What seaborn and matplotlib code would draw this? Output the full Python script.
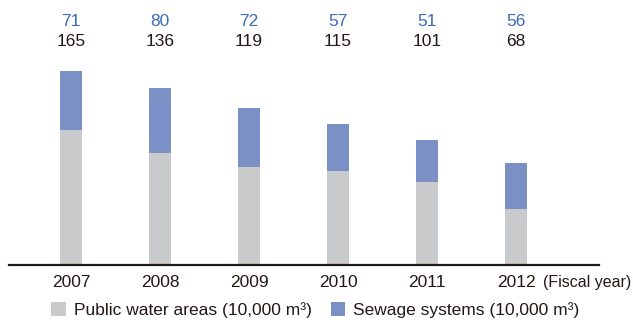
import matplotlib
matplotlib.use("Agg")
import matplotlib.pyplot as plt
from matplotlib.patches import Patch
import seaborn as sns
import pandas as pd

years = ["2007", "2008", "2009", "2010", "2011", "2012"]
public_water = [165, 136, 119, 115, 101, 68]
sewage = [71, 80, 72, 57, 51, 56]

GRAY = "#C9CACB"
BLUE = "#7B90C4"
LABEL_BLUE = "#3B6CB4"
DARK = "#231815"

sns.set_theme(style="white")
plt.rcParams["font.family"] = ["Liberation Sans", "DejaVu Sans"]

df = pd.DataFrame({
    "year": years,
    "public": public_water,
    "sewage": sewage,
})
df["total"] = df["public"] + df["sewage"]

W, H = 633, 320
fig = plt.figure(figsize=(W / 100, H / 100), dpi=100)
ax = fig.add_axes([9 / W, 55 / H, 590 / W, 245 / H])

bar_w = 22 / 89
# Stacked bars: full height in blue, lower segment in gray over it
sns.barplot(data=df, x="year", y="total", color=BLUE, width=bar_w,
            saturation=1, ax=ax, linewidth=0)
sns.barplot(data=df, x="year", y="public", color=GRAY, width=bar_w,
            saturation=1, ax=ax, linewidth=0)

px_per_unit = 0.82
ax.set_xlim((9 - 71) / 89, (599 - 71) / 89)
ax.set_ylim(0, 245 / px_per_unit)

for s in ["top", "left", "right"]:
    ax.spines[s].set_visible(False)
ax.spines["bottom"].set_color(DARK)
ax.spines["bottom"].set_linewidth(1.6)
ax.set_yticks([])
ax.set_xlabel("")
ax.set_ylabel("")
ax.tick_params(axis="x", length=0, pad=7, labelsize=12.5, labelcolor=DARK)

# Value labels above the chart: sewage (blue) over public water (dark)
for i, (pw, sw) in enumerate(zip(public_water, sewage)):
    ax.text(i, (265 - 21) / px_per_unit, f"{sw}", ha="center", va="center",
            fontsize=12.5, color=LABEL_BLUE)
    ax.text(i, (265 - 42) / px_per_unit, f"{pw}", ha="center", va="center",
            fontsize=12.5, color=DARK)

fig.text(543 / W, 1 - 283 / H, "(Fiscal year)", ha="left", va="center",
         fontsize=11.5, color=DARK)

handles = [
    Patch(facecolor=GRAY, edgecolor="none", label="Public water areas (10,000 m³)"),
    Patch(facecolor=BLUE, edgecolor="none", label="Sewage systems (10,000 m³)"),
]
leg = fig.legend(handles=handles, loc="center left",
                 bbox_to_anchor=(51 / W, 1 - 310 / H), ncol=2, frameon=False,
                 borderpad=0, borderaxespad=0, handlelength=0.85,
                 handleheight=0.85, handletextpad=0.45, columnspacing=1.1,
                 fontsize=12.5)
for t in leg.get_texts():
    t.set_color(DARK)

fig.savefig("out.png", dpi=100, facecolor="white")
